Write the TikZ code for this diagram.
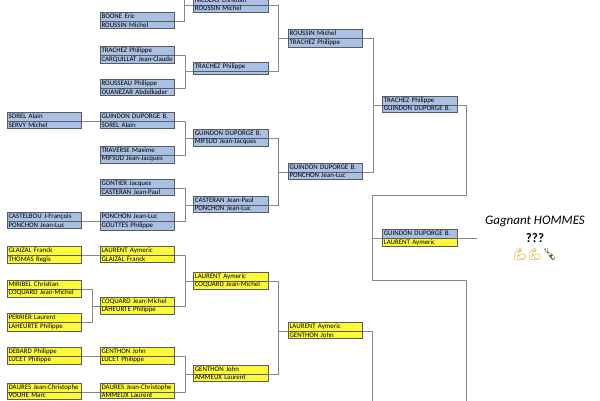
\documentclass[tikz,border=0pt]{standalone}
\usepackage{fontspec}
\setmainfont{Carlito}
\newfontfamily\emojifont{Noto Emoji}
\usetikzlibrary{shapes.multipart}
\definecolor{boxblue}{RGB}{167,192,228}
\definecolor{boxyel}{RGB}{252,250,55}
\definecolor{boxline}{RGB}{90,90,95}
\definecolor{linkgray}{RGB}{135,135,135}
\definecolor{armcol}{RGB}{222,150,10}
\definecolor{bottlecol}{RGB}{70,95,30}

\begin{document}
\begin{tikzpicture}[x=1pt,y=-1pt,
	match/.style={rectangle split, rectangle split parts=2, rectangle split ignore empty parts=false, draw=boxline, line width=0.7pt, anchor=north west, text width=72pt, align=left, inner xsep=1.2pt, inner ysep=0.8pt, text height=5.1pt, text depth=1.6pt, font=\fontsize{6.9}{8}\selectfont},
	bluebox/.style={match, rectangle split part fill={boxblue,boxblue}},
	yelbox/.style={match, rectangle split part fill={boxyel,boxyel}},
	mixbox/.style={match, rectangle split part fill={boxblue,boxyel}},
	link/.style={draw=linkgray, line width=0.7pt}]
	\useasboundingbox (0,0) rectangle (600,400);
	\clip (0,0) rectangle (600,400);

	\node[bluebox] (c0a) at (7,112.3) {SOREL Alain \nodepart{two} SERVY Michel};
	\node[bluebox] (c0b) at (7,212.3) {CASTELBOU J-François \nodepart{two} PONCHON Jean-Luc};
	\node[yelbox] (c0c) at (7,246) {GLAIZAL Franck \nodepart{two} THOMAS Regis};
	\node[yelbox] (c0d) at (7,279.7) {MIRIBEL Christian \nodepart{two} COQUARD Jean-Michel};
	\node[yelbox] (c0e) at (7,313.3) {PERRIER Laurent \nodepart{two} LAHEURTE Philippe};
	\node[yelbox] (c0f) at (7,346.7) {DEBARD Philippe \nodepart{two} LUCET Philippe};
	\node[yelbox] (c0g) at (7,382.7) {DAURES Jean-Christophe \nodepart{two} VOUHE Marc};

	\node[bluebox] (c1a) at (100,12.3) {BOONE Eric \nodepart{two} ROUSSIN Michel};
	\node[bluebox] (c1b) at (100,46) {TRACHEZ Philippe \nodepart{two} CARQUILLAT Jean-Claude};
	\node[bluebox] (c1c) at (100,79) {ROUSSEAU Philippe \nodepart{two} OUANEZAR Abdelkader};
	\node[bluebox] (c1d) at (100,112.3) {GUINDON DUPORGE B. \nodepart{two} SOREL Alain};
	\node[bluebox] (c1e) at (100,145.7) {TRAVERSE Maxime \nodepart{two} MIFSUD Jean-Jacques};
	\node[bluebox] (c1f) at (100,179.3) {GONTIER Jacques \nodepart{two} CASTERAN Jean-Paul};
	\node[bluebox] (c1g) at (100,212.3) {PONCHON Jean-Luc \nodepart{two} GOUTTES Philippe};
	\node[yelbox] (c1h) at (100,246) {LAURENT Aymeric \nodepart{two} GLAIZAL Franck};
	\node[yelbox] (c1i) at (100,296.7) {COQUARD Jean-Michel \nodepart{two} LAHEURTE Philippe};
	\node[yelbox] (c1j) at (100,346.7) {GENTHON John \nodepart{two} LUCET Philippe};
	\node[yelbox] (c1k) at (100,382.7) {DAURES Jean-Christophe \nodepart{two} AMMEUX Laurent};

	\node[bluebox] (c2a) at (193.3,-4.3) {NICOLAS Christian \nodepart{two} ROUSSIN Michel};
	\node[bluebox] (c2b) at (193.3,62.3) {TRACHEZ Philippe \nodepart{two} {}};
	\node[bluebox] (c2c) at (193.3,129) {GUINDON DUPORGE B. \nodepart{two} MIFSUD Jean-Jacques};
	\node[bluebox] (c2d) at (193.3,196) {CASTERAN Jean-Paul \nodepart{two} PONCHON Jean-Luc};
	\node[yelbox] (c2e) at (193.3,271.7) {LAURENT Aymeric \nodepart{two} COQUARD Jean-Michel};
	\node[yelbox] (c2f) at (193.3,365) {GENTHON John \nodepart{two} AMMEUX Laurent};

	\node[bluebox] (c3a) at (288,29.3) {ROUSSIN Michel \nodepart{two} TRACHEZ Philippe};
	\node[bluebox] (c3b) at (288,162.7) {GUINDON DUPORGE B. \nodepart{two} PONCHON Jean-Luc};
	\node[yelbox] (c3c) at (288,322) {LAURENT Aymeric \nodepart{two} GENTHON John};

	\node[bluebox] (c4a) at (382.3,96) {TRACHEZ Philippe \nodepart{two} GUINDON DUPORGE B.};
	\node[mixbox] (fin) at (382.3,229.3) {GUINDON DUPORGE B. \nodepart{two} LAURENT Aymeric};

	\node[font=\fontsize{13}{15}\selectfont\itshape] (winner) at (535,221.7) {Gagnant HOMMES};
	\node[font=\fontsize{13}{15}\selectfont\bfseries] (qmarks) at (535,238.3) {???};
	\node[font=\fontsize{11.5}{13}\selectfont\emojifont] (emo) at (535,254.3) {\textcolor{armcol}{💪💪}\textcolor{bottlecol}{🍾}};

	\coordinate (c1top) at (184.3,-10);
	\coordinate (c3down) at (372.7,410);
	\coordinate (s1) at (466.7,195.3);
	\coordinate (s2) at (372.3,280);
	\coordinate (s3) at (466.7,410);

	\draw[link] (c0a.text split east) -- (c1d.text split west);
	\draw[link] (c0b.text split east) -- (c1g.text split west);
	\draw[link] (c0c.text split east) -- (c1h.text split west);
	\draw[link] (c0d.text split east) -- ++(10,0) |- (c1i.text split west);
	\draw[link] (c0e.text split east) -- ++(10,0) |- (c1i.text split west);
	\draw[link] (c0f.text split east) -- (c1j.text split west);
	\draw[link] (c0g.text split east) -- (c1k.text split west);

	\draw[link] (c1a.text split east) -| (c1top);
	\draw[link] (c1top) |- (c2a.text split west);
	\draw[link] (c1b.text split east) -- ++(10,0) |- (c2b.text split west);
	\draw[link] (c1c.text split east) -- ++(10,0) |- (c2b.text split west);
	\draw[link] (c1d.text split east) -- ++(10,0) |- (c2c.text split west);
	\draw[link] (c1e.text split east) -- ++(10,0) |- (c2c.text split west);
	\draw[link] (c1f.text split east) -- ++(10,0) |- (c2d.text split west);
	\draw[link] (c1g.text split east) -- ++(10,0) |- (c2d.text split west);
	\draw[link] (c1h.text split east) -- ++(10,0) |- (c2e.text split west);
	\draw[link] (c1i.text split east) -- ++(10,0) |- (c2e.text split west);
	\draw[link] (c1j.text split east) -- ++(10,0) |- (c2f.text split west);
	\draw[link] (c1k.text split east) -- ++(10,0) |- (c2f.text split west);

	\draw[link] (c2a.text split east) -- ++(10,0) |- (c3a.text split west);
	\draw[link] (c2b.text split east) -- ++(10,0) |- (c3a.text split west);
	\draw[link] (c2c.text split east) -- ++(10,0) |- (c3b.text split west);
	\draw[link] (c2d.text split east) -- ++(10,0) |- (c3b.text split west);
	\draw[link] (c2e.text split east) -- ++(10,0) |- (c3c.text split west);
	\draw[link] (c2f.text split east) -- ++(10,0) |- (c3c.text split west);

	\draw[link] (c3a.text split east) -- ++(10,0) |- (c4a.text split west);
	\draw[link] (c3b.text split east) -- ++(10,0) |- (c4a.text split west);
	\draw[link] (c3c.text split east) -| (c3down);

	\draw[link] (c4a.text split east) -| (s1) -| (s2) -| (s3);
	\draw[link] (fin.text split west) -- ++(-10,0);
	\draw[link] (fin.text split east) -- ++(20,0);
\end{tikzpicture}
\end{document}
